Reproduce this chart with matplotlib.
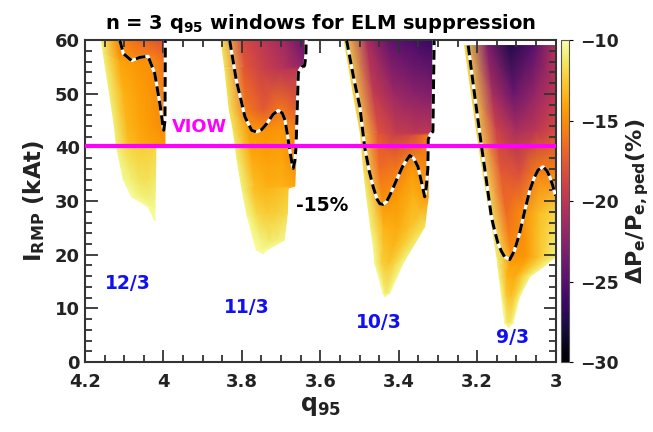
# Imports

import numpy
import matplotlib
matplotlib.use("Agg")
from matplotlib import pyplot
from matplotlib.colors import Normalize
from matplotlib.ticker import MultipleLocator, FuncFormatter

# Fonts

pyplot.rcParams["font.family"] = "DejaVu Sans"
pyplot.rcParams["font.weight"] = "bold"
pyplot.rcParams["mathtext.fontset"] = "custom"
pyplot.rcParams["mathtext.rm"] = "DejaVu Sans:bold"
pyplot.rcParams["mathtext.it"] = "DejaVu Sans:bold"
pyplot.rcParams["mathtext.bf"] = "DejaVu Sans:bold"
pyplot.rcParams["mathtext.sf"] = "DejaVu Sans:bold"
pyplot.rcParams["mathtext.default"] = "rm"

# Window data: rows of I_RMP (kAt), left / right q95 edge of each row,
# and dP_e/P_e,ped (%) sampled across each row from left to right edge

columnFractions = numpy.array([0.0, 0.25, 0.5, 0.75, 1.0])

w12_I = [60.0, 57.5, 56.0, 50.0, 44.0, 40.4, 40.0, 34.0, 30.8, 28.9, 26.4]
w12_left = [4.158, 4.153, 4.150, 4.137, 4.125, 4.120, 4.119, 4.102, 4.081, 4.039, 4.022]
w12_right = [3.994, 3.994, 3.994, 3.995, 3.996, 3.996, 4.019, 4.020, 4.021, 4.021, 4.022]
w12_dP = [
    [-11.0, -14.8, -16.3, -17.3, -18.0],
    [-11.0, -14.8, -15.4, -15.8, -17.0],
    [-11.0, -14.0, -14.6, -14.9, -16.3],
    [-11.0, -13.5, -14.2, -14.7, -15.5],
    [-11.0, -13.3, -14.0, -14.6, -15.2],
    [-11.0, -13.0, -13.8, -14.2, -14.5],
    [-10.8, -11.8, -12.2, -12.3, -12.0],
    [-10.4, -11.0, -11.5, -11.6, -11.2],
    [-10.2, -10.6, -10.9, -11.0, -10.8],
    [-10.1, -10.3, -10.5, -10.5, -10.4],
    [-10.2, -10.2, -10.2, -10.2, -10.2],
]

w11_I = [60.0, 55.0, 54.5, 47.0, 43.2, 38.0, 32.8, 32.4, 27.7, 22.7, 20.9, 20.2]
w11_left = [3.853, 3.844, 3.843, 3.832, 3.822, 3.813, 3.801, 3.800, 3.788, 3.770, 3.763, 3.746]
w11_right = [3.635, 3.639, 3.656, 3.658, 3.660, 3.662, 3.665, 3.682, 3.684, 3.692, 3.735, 3.746]
w11_dP = [
    [-11.5, -18.5, -20.0, -21.5, -24.5],
    [-11.5, -17.8, -19.3, -20.5, -22.5],
    [-11.5, -17.5, -19.0, -20.0, -20.0],
    [-11.5, -16.0, -17.5, -16.0, -17.5],
    [-11.5, -14.5, -14.8, -14.5, -15.5],
    [-11.0, -13.8, -14.2, -14.0, -15.2],
    [-10.8, -13.0, -13.6, -13.5, -14.0],
    [-10.8, -13.0, -13.4, -13.2, -12.8],
    [-10.5, -12.0, -12.5, -12.3, -11.8],
    [-10.3, -10.8, -11.2, -11.0, -10.6],
    [-10.2, -10.3, -10.4, -10.3, -10.2],
    [-10.2, -10.2, -10.2, -10.2, -10.2],
]

w10_I = [60.0, 50.0, 42.7, 42.2, 36.0, 30.8, 25.2, 21.5, 18.4, 12.8, 12.2]
w10_left = [3.539, 3.516, 3.498, 3.497, 3.490, 3.482, 3.472, 3.465, 3.461, 3.440, 3.436]
w10_right = [3.308, 3.310, 3.313, 3.325, 3.325, 3.325, 3.334, 3.364, 3.389, 3.423, 3.436]
w10_dP = [
    [-12.0, -21.0, -24.5, -25.5, -26.5],
    [-12.0, -19.5, -21.5, -22.5, -23.0],
    [-12.0, -18.0, -19.5, -20.0, -20.0],
    [-12.0, -17.5, -19.0, -18.5, -16.0],
    [-11.5, -16.5, -16.0, -14.5, -15.2],
    [-11.0, -15.0, -14.5, -13.5, -14.5],
    [-10.8, -13.5, -13.8, -12.8, -11.5],
    [-10.5, -12.8, -13.3, -12.3, -11.0],
    [-10.5, -12.3, -12.8, -11.8, -10.6],
    [-10.3, -10.8, -11.0, -10.8, -10.3],
    [-10.2, -10.2, -10.2, -10.2, -10.2],
]

w9_I = [59.0, 50.0, 43.2, 35.0, 27.7, 19.6, 17.7, 15.9, 12.2, 7.2, 6.5]
w9_left = [3.232, 3.215, 3.202, 3.185, 3.168, 3.150, 3.147, 3.144, 3.138, 3.130, 3.120]
w9_right = [3.000, 3.000, 3.000, 3.000, 3.000, 3.000, 3.032, 3.066, 3.092, 3.109, 3.120]
w9_dP = [
    [-12.0, -23.0, -27.5, -25.0, -20.5],
    [-12.0, -21.0, -24.0, -22.0, -20.0],
    [-12.0, -19.0, -21.0, -20.0, -18.5],
    [-11.5, -17.5, -18.0, -15.5, -15.3],
    [-11.5, -16.5, -15.0, -13.0, -12.0],
    [-11.0, -14.8, -14.5, -12.5, -10.8],
    [-11.0, -14.0, -14.0, -12.3, -10.6],
    [-10.8, -13.5, -13.8, -12.3, -10.6],
    [-10.5, -12.5, -13.0, -12.3, -10.6],
    [-10.3, -11.0, -11.2, -11.0, -10.3],
    [-10.2, -10.2, -10.2, -10.2, -10.2],
]

# -15% iso-lines

c12_q = [4.111, 4.102, 4.081, 4.060, 4.039, 4.022, 4.009, 4.002, 3.999, 3.996, 3.995]
c12_I = [60.0, 57.5, 56.2, 56.8, 57.0, 53.8, 48.2, 44.5, 43.2, 45.0, 60.0]

c11_q = [3.831, 3.814, 3.792, 3.775, 3.763, 3.750, 3.737, 3.720, 3.707, 3.697, 3.690, 3.684,
         3.678, 3.672, 3.669, 3.665, 3.662, 3.659, 3.656, 3.648, 3.640, 3.637, 3.636]
c11_I = [60.0, 52.5, 45.7, 43.2, 42.9, 43.3, 44.4, 46.2, 46.9, 46.4, 45.1, 42.5,
         39.5, 37.0, 36.1, 37.5, 40.0, 47.0, 54.0, 55.0, 55.3, 57.0, 60.0]

c10_q = [3.533, 3.515, 3.499, 3.487, 3.475, 3.465, 3.455, 3.448, 3.440, 3.431, 3.420, 3.406,
         3.390, 3.372, 3.362, 3.351, 3.342, 3.334, 3.330, 3.326, 3.325, 3.320, 3.313, 3.310]
c10_I = [60.0, 53.0, 47.5, 40.1, 35.5, 32.6, 30.3, 29.5, 29.4, 29.9, 31.5, 33.9,
         36.5, 38.5, 38.0, 36.4, 33.5, 30.8, 32.5, 36.0, 41.5, 42.4, 43.0, 60.0]

c9_q = [3.223, 3.207, 3.190, 3.176, 3.164, 3.155, 3.147, 3.138, 3.130, 3.117, 3.105, 3.092,
        3.079, 3.066, 3.055, 3.045, 3.032, 3.022, 3.015, 3.008, 3.002, 3.000]
c9_I = [59.0, 50.0, 40.7, 33.5, 27.1, 24.3, 22.1, 20.6, 19.6, 19.1, 20.8, 24.0,
        28.2, 32.0, 34.3, 35.8, 36.4, 35.6, 34.5, 33.0, 31.4, 31.0]

# Labels

windowNames = ["12/3", "11/3", "10/3", "9/3"]
windowNameQ = [4.090, 3.787, 3.451, 3.109]
windowNameI = [14.7, 10.1, 7.4, 4.5]

viowCurrent = 40.3

# Figure

fig = pyplot.figure(figsize=(6.53, 4.32), dpi=100)
ax = fig.add_axes([0.130, 0.162, 0.721, 0.745])
cax = fig.add_axes([0.859, 0.162, 0.0123, 0.745])

norm = Normalize(vmin=-30, vmax=-10)
cmap = "inferno"

# Windows

windows = [
    (w12_I, w12_left, w12_right, w12_dP),
    (w11_I, w11_left, w11_right, w11_dP),
    (w10_I, w10_left, w10_right, w10_dP),
    (w9_I, w9_left, w9_right, w9_dP),
]

for rows, left, right, dP in windows:
    rows = numpy.array(rows)
    left = numpy.array(left)
    right = numpy.array(right)
    Q = left[:, None] + (right - left)[:, None] * columnFractions[None, :]
    Y = numpy.repeat(rows[:, None], len(columnFractions), axis=1)
    mesh = ax.pcolormesh(Q, Y, numpy.array(dP), shading="gouraud", cmap=cmap, norm=norm, zorder=1)

# Iso-lines

for qLine, ILine in [(c12_q, c12_I), (c11_q, c11_I), (c10_q, c10_I), (c9_q, c9_I)]:
    ax.plot(qLine, ILine, color="white", linewidth=2.2, zorder=3, solid_capstyle="butt")
    ax.plot(qLine, ILine, color="black", linewidth=2.2, dashes=(3.2, 1.6), zorder=4, dash_capstyle="butt")

# VIOW line

ax.axhline(viowCurrent, color="#ff00ff", linewidth=3, zorder=5)
ax.text(3.907, 43.8, "VIOW", color="#ff00ff", fontsize=12.8, fontweight="bold", ha="center", va="center", zorder=6)

ax.text(3.594, 29.2, "-15%", color="black", fontsize=13.5, fontweight="bold", ha="center", va="center", zorder=6)

for name, qName, IName in zip(windowNames, windowNameQ, windowNameI):
    ax.text(qName, IName, name, color="#1010f0", fontsize=13.5, fontweight="bold", ha="center", va="center", zorder=6)

# Axes parameters

ax.set_xlim(4.2, 3.0)
ax.set_ylim(0, 60)
ax.xaxis.set_major_locator(MultipleLocator(0.2))
ax.xaxis.set_minor_locator(MultipleLocator(0.05))
ax.yaxis.set_major_locator(MultipleLocator(10))
ax.yaxis.set_minor_locator(MultipleLocator(2))
ax.xaxis.set_major_formatter(FuncFormatter(lambda v, p: "{0:g}".format(round(v, 2))))
ax.tick_params(which="both", direction="in", top=True, right=True, width=1.3, color="#333333",
               labelsize=13, labelcolor="#222222")
ax.tick_params(which="major", length=9)
ax.tick_params(which="minor", length=4.8)
ax.tick_params(axis="x", pad=8)
for spine in ax.spines.values():
    spine.set_linewidth(1.5)
    spine.set_color("#333333")

ax.set_title(r"n = 3 q$_{95}$ windows for ELM suppression", fontsize=14, fontweight="bold", pad=8)
ax.set_xlabel(r"q$_{95}$", fontsize=17, fontweight="bold", labelpad=2, color="#222222")
ax.set_ylabel(r"I$_{\rm RMP}$ (kAt)", fontsize=16.5, fontweight="bold", labelpad=6, color="#222222")

# Colorbar

cbar = fig.colorbar(mesh, cax=cax, ticks=[-30, -25, -20, -15, -10])
cbar.ax.tick_params(labelsize=12.5, length=3, width=0.8, labelcolor="#222222", pad=5)
cbar.outline.set_linewidth(0.8)
cbar.outline.set_edgecolor("#555555")
cbar.set_label(r"$\Delta$P$_{\rm e}$/P$_{\rm e,ped}$(%)", fontsize=16, fontweight="bold", labelpad=4, color="#222222")

fig.savefig("out.png", dpi=100)
pyplot.close()
